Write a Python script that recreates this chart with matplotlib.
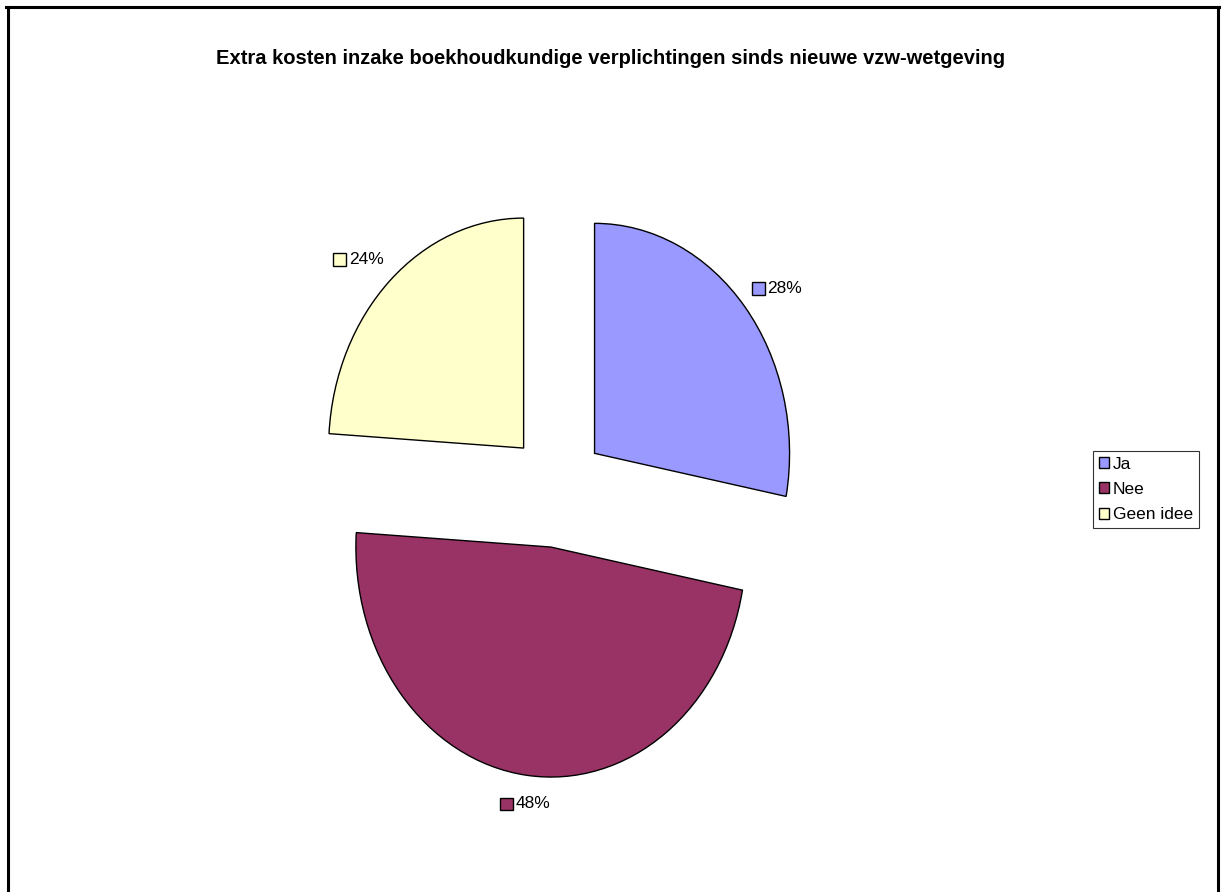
import matplotlib
matplotlib.use("Agg")
import matplotlib.pyplot as plt
import numpy as np
from matplotlib.lines import Line2D
from matplotlib.patches import Rectangle
from matplotlib.offsetbox import DrawingArea, TextArea, HPacker, AnnotationBbox

plt.rcParams['font.family'] = ['Liberation Sans', 'DejaVu Sans']

title = "Extra kosten inzake boekhoudkundige verplichtingen sinds nieuwe vzw-wetgeving"
labels = ["Ja", "Nee", "Geen idee"]
values = [28, 48, 24]
colors = ["#9999FF", "#993366", "#FFFFCC"]

W, H = 1224, 892
fig = plt.figure(figsize=(W / 100, H / 100), dpi=100)
ax = fig.add_axes([0, 0, 1, 1])

wedges, _ = ax.pie(values, colors=colors, startangle=90, counterclock=False,
                   explode=[0.25] * 3,
                   wedgeprops=dict(edgecolor="black", linewidth=1.0))

# stretch the pie: 195 px per unit across, 230 px per unit down
cx, cy = 557, 490
sx, sy = 195, 230
ax.set_aspect("auto")
ax.set_xlim(-cx / sx, (W - cx) / sx)
ax.set_ylim(-(H - cy) / sy, cy / sy)
ax.axis("off")

# percentage labels with a little colour key in front
for w, v, c in zip(wedges, values, colors):
    ang = np.deg2rad((w.theta1 + w.theta2) / 2)
    x0, y0 = w.center
    x = x0 + 1.05 * np.cos(ang)
    y = y0 + 1.125 * np.sin(ang)
    da = DrawingArea(9, 9, 0, 0)
    da.add_artist(Rectangle((0, 0), 9, 9, facecolor=c, edgecolor="black", linewidth=1.0))
    ta = TextArea("%d%%" % v, textprops=dict(fontsize=12.5))
    box = HPacker(children=[da, ta], align="center", pad=0, sep=2)
    if abs(np.cos(ang)) < 0.3:
        al = (0.5, 0.5)
    elif np.cos(ang) > 0:
        al = (0, 0.5)
    else:
        al = (1, 0.5)
    ax.add_artist(AnnotationBbox(box, (x, y), frameon=False, box_alignment=al, pad=0))

leg = ax.legend(wedges, labels, loc="center left",
                bbox_to_anchor=(1093 / W, 1 - 489.5 / H), bbox_transform=fig.transFigure,
                fontsize=12.5, frameon=True, fancybox=False, borderaxespad=0,
                handlelength=0.6, handleheight=0.6, handletextpad=0.2,
                labelspacing=0.6, borderpad=0.35)
leg.get_frame().set_edgecolor("black")
leg.get_frame().set_linewidth(0.8)

fig.text(611 / W, 1 - 58 / H, title, ha="center", va="center",
         fontsize=14.5, fontweight="bold")

# chart frame: left, top and right sides
lw = 2.2
fig.add_artist(Line2D([7.5 / W, 7.5 / W], [0, 1 - 6.5 / H], color="black", linewidth=lw))
fig.add_artist(Line2D([6 / W, 1219 / W], [1 - 6.5 / H, 1 - 6.5 / H], color="black", linewidth=lw))
fig.add_artist(Line2D([1217.5 / W, 1217.5 / W], [0, 1 - 6.5 / H], color="black", linewidth=lw))

fig.savefig("out.png", dpi=100)
